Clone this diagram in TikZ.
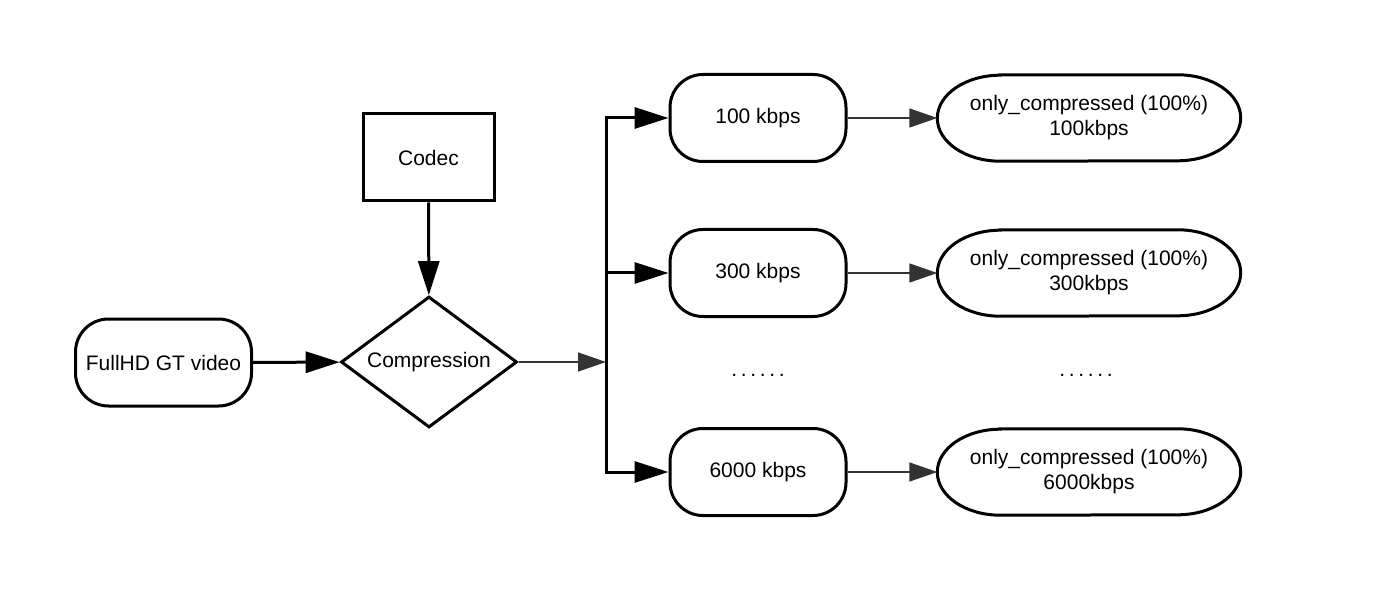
\documentclass[tikz,border=0pt]{standalone}
\usepackage{fontspec}
\setmainfont{Liberation Sans}
\usetikzlibrary{shapes.geometric,arrows.meta}
\definecolor{thin}{HTML}{333333}
\newcommand\pillborder[1]{\draw[line width=3pt] ([xshift=63pt]#1.north west) -- ([xshift=-63pt]#1.north east) arc[start angle=90,end angle=-90,x radius=63pt,y radius=43pt] -- ([xshift=63pt]#1.south west) arc[start angle=270,end angle=90,x radius=63pt,y radius=43pt] -- cycle;}
\newcommand\mydots{.\hspace{3.7pt}.\hspace{3.7pt}.\hspace{3.7pt}.\hspace{3.7pt}.\hspace{3.7pt}.}
\begin{document}
\begin{tikzpicture}[x=1pt,y=-1pt,
  every node/.style={font=\fontsize{21}{25}\selectfont, text=black},
  rbox/.style={draw, line width=3pt, rounded corners=33pt, minimum width=176pt, minimum height=87pt, inner sep=0pt},
  pill/.style={minimum width=303pt, minimum height=86pt, inner sep=0pt, align=center},
  sqbox/.style={draw, line width=3pt, minimum width=131pt, minimum height=87pt, inner sep=0pt},
  dia/.style={draw, line width=3pt, diamond, aspect=1.34, minimum width=176pt, minimum height=131pt, inner sep=0pt},
  thickarrow/.style={line width=3pt, draw=black, -{Triangle[length=34pt,width=21pt]}},
  thinarrow/.style={line width=1.5pt, draw=thin, -{Triangle[length=28pt,width=19pt,fill=thin]}}
]
\useasboundingbox (0,0) rectangle (1388,593);
\node[rbox] (src) at (163.5,362.5) {FullHD GT video};
\node[dia] (comp) at (429,362) {Compression};
\node[sqbox] (codec) at (428.5,157.5) {Codec};
\coordinate (J) at (606,362);
\node[rbox] (k100) at (758,118) {100 kbps};
\node[rbox] (k300) at (758,273) {300 kbps};
\node[rbox] (k6000) at (758,472) {6000 kbps};
\node[pill] (o100) at (1089,118) {only\_compressed (100\%)\\100kbps};
\node[pill] (o300) at (1089,273) {only\_compressed (100\%)\\300kbps};
\node[pill] (o6000) at (1089,472) {only\_compressed (100\%)\\6000kbps};
\pillborder{o100}
\pillborder{o300}
\pillborder{o6000}
\node (d1) at (758,375) {\mydots};
\node (d2) at (1086,375) {\mydots};
\draw[thickarrow] (src) -- (comp);
\draw[thickarrow] (codec) -- (comp);
\draw[thinarrow] (comp) -- (J);
\draw[thickarrow] (J) |- (k100);
\draw[thickarrow] (J |- k300) -- (k300);
\draw[thickarrow] (J) |- (k6000);
\draw[thinarrow] (k100) -- (o100);
\draw[thinarrow] (k300) -- (o300);
\draw[thinarrow] (k6000) -- (o6000);
\end{tikzpicture}
\end{document}
